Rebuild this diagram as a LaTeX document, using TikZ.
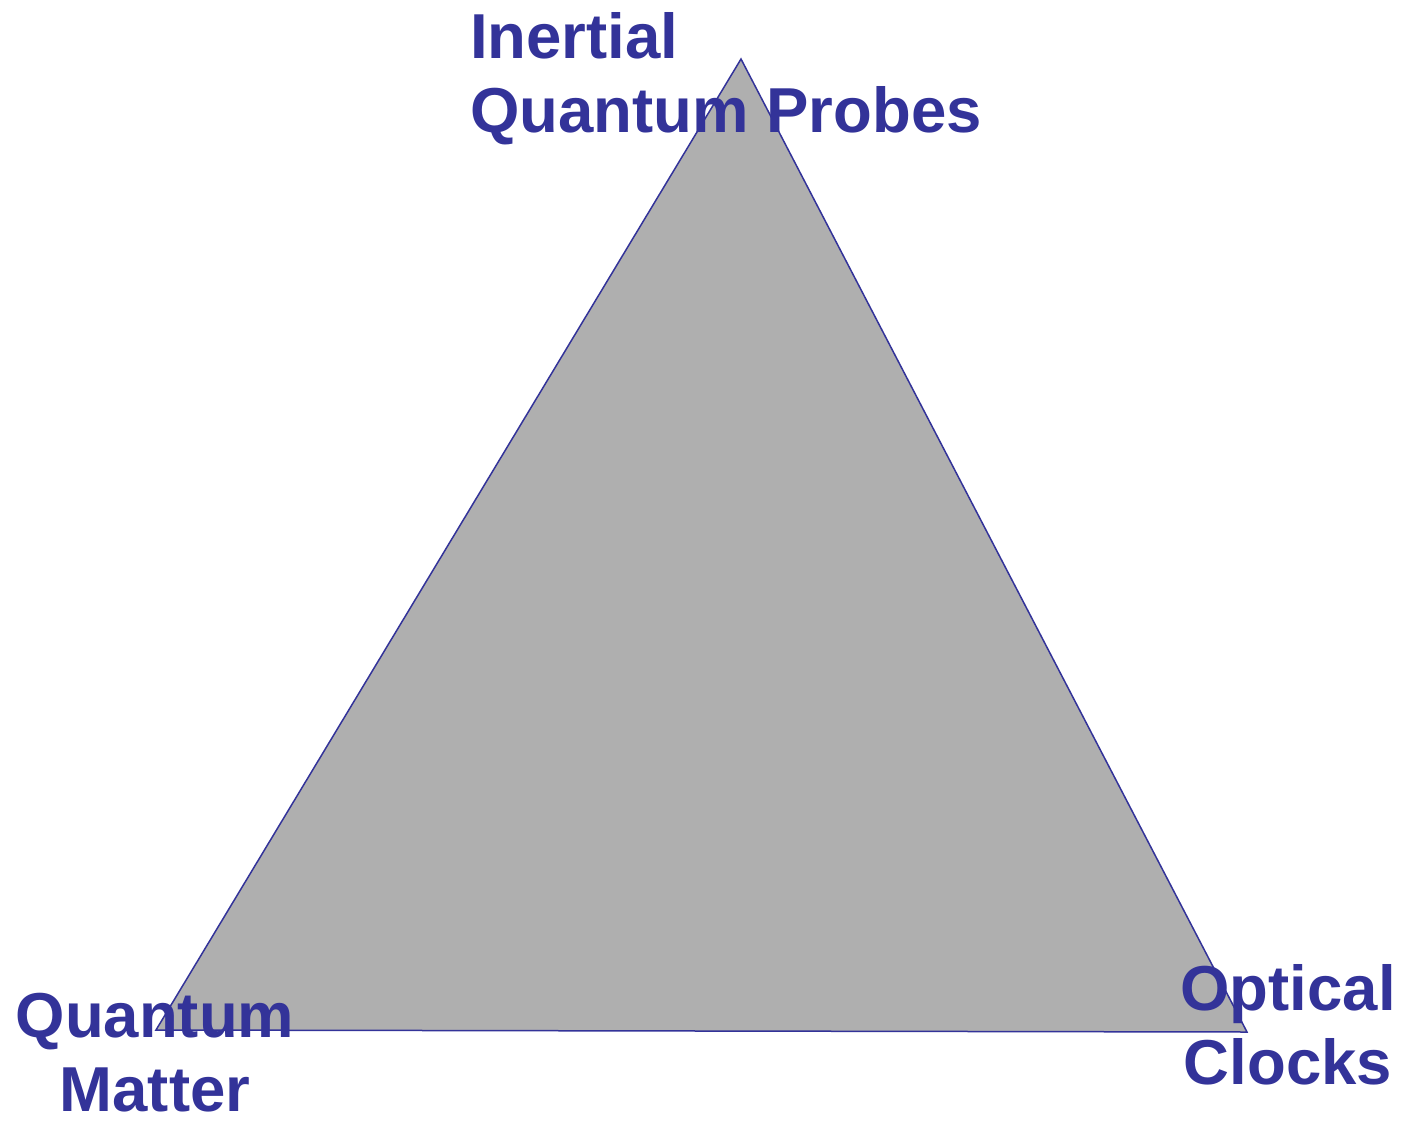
\documentclass[tikz,border=0pt]{standalone}
\usepackage{fontspec}
\setmainfont{Liberation Sans}
\definecolor{lbl}{HTML}{333399}
\definecolor{tri}{HTML}{AFAFAF}
\begin{document}
\begin{tikzpicture}[x=1pt,y=-1pt,
  lab/.style={inner sep=0pt,text=lbl,font=\fontsize{63.5}{74}\selectfont\bfseries}]
\useasboundingbox (0,0) rectangle (1409,1122);
\coordinate (A) at (741,59);
\coordinate (B) at (156,1030);
\coordinate (C) at (1247,1032);
\filldraw[fill=tri,draw=lbl,line width=1.5pt,line join=miter] (A) -- (C) -- (B) -- cycle;
\node[lab,align=left,anchor=north west] (top) at (470,12) {Inertial\\Quantum Probes};
\node[lab,align=center,anchor=north] (qm) at (155,993) {Quantum\\Matter};
\node[lab,align=center,anchor=north] (oc) at (1288,964) {Optical\\Clocks};
\end{tikzpicture}
\end{document}
